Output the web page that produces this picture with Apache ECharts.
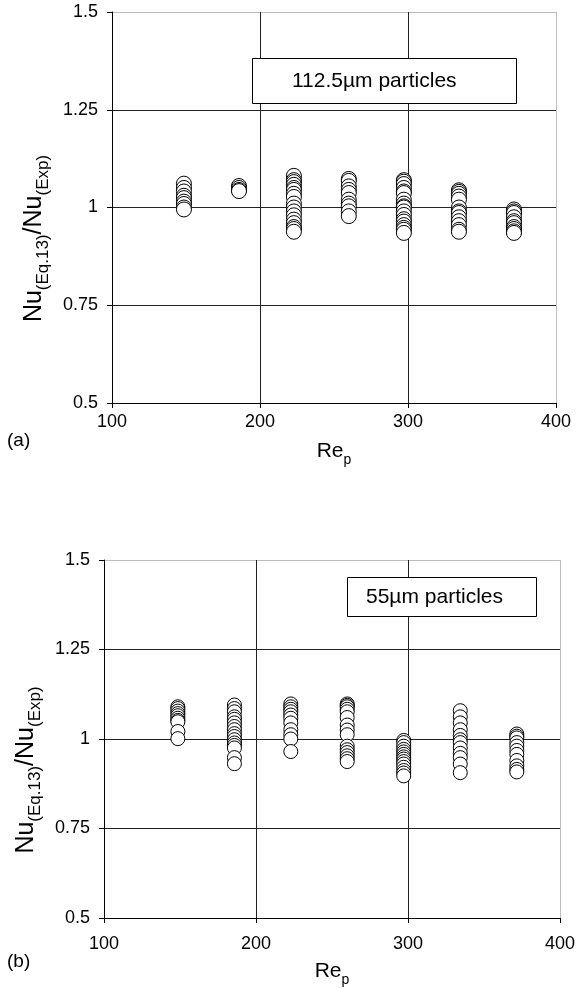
<!DOCTYPE html>
<html>
<head>
<meta charset="utf-8">
<script src="https://cdn.jsdelivr.net/npm/echarts@6/dist/echarts.min.js"></script>
<style>
  html, body { margin: 0; padding: 0; background: #fff; }
  #chart { width: 578px; height: 988px; }
</style>
</head>
<body>
<div id="chart"></div>
<script>
// Re_p of the seven measurement columns (same in both panels)
const rep = [148.6, 185.8, 222.9, 260, 297.2, 334.4, 371.6];
const xTicks = [100, 200, 300, 400];
const yTicks = [0.5, 0.75, 1, 1.25, 1.5];

// (a) 112.5um particles, Nu(Eq.13)/Nu(Exp) per column
const nuA1 = [1.061, 1.05, 1.041, 1.03, 1.024, 1.015, 1.009, 1.0, 0.995];
const nuA2 = [1.055, 1.05, 1.045, 1.042];
const nuA3 = [1.081, 1.07, 1.065, 1.058, 1.05, 1.045, 1.035, 1.027, 1.01, 1.0, 0.99, 0.98, 0.969, 0.96, 0.95, 0.945, 0.938];
const nuA4 = [1.073, 1.068, 1.054, 1.045, 1.037, 1.02, 1.01, 1.003, 0.99, 0.978];
const nuA5 = [1.07, 1.066, 1.06, 1.05, 1.041, 1.037, 1.02, 1.01, 1.003, 1.0, 0.99, 0.981, 0.97, 0.964, 0.955, 0.948, 0.943, 0.935];
const nuA6 = [1.044, 1.04, 1.035, 1.028, 1.02, 1.0, 0.99, 0.986, 0.975, 0.965, 0.955, 0.943, 0.938];
const nuA7 = [0.995, 0.99, 0.986, 0.975, 0.965, 0.96, 0.95, 0.945, 0.939, 0.935];

// (b) 55um particles
const nuB1 = [1.09, 1.085, 1.078, 1.071, 1.065, 1.058, 1.052, 1.048, 1.021, 1.001];
const nuB2 = [1.095, 1.085, 1.076, 1.062, 1.055, 1.045, 1.035, 1.026, 1.015, 1.007, 0.998, 0.989, 0.982, 0.975, 0.948, 0.931];
const nuB3 = [1.098, 1.09, 1.083, 1.076, 1.067, 1.058, 1.045, 1.026, 1.012, 1.0, 0.965];
const nuB4 = [1.098, 1.094, 1.09, 1.083, 1.076, 1.06, 1.039, 1.025, 1.012, 0.98, 0.97, 0.962, 0.953, 0.945, 0.937];
const nuB5 = [0.996, 0.99, 0.98, 0.971, 0.964, 0.957, 0.95, 0.944, 0.937, 0.93, 0.921, 0.912, 0.905, 0.897];
const nuB6 = [1.079, 1.062, 1.045, 1.026, 1.01, 0.998, 0.99, 0.975, 0.96, 0.948, 0.93, 0.906];
const nuB7 = [1.014, 1.008, 1.003, 0.99, 0.98, 0.968, 0.957, 0.94, 0.925, 0.915, 0.908];

const colsA = [nuA1, nuA2, nuA3, nuA4, nuA5, nuA6, nuA7];
const colsB = [nuB1, nuB2, nuB3, nuB4, nuB5, nuB6, nuB7];

function toPoints(cols) {
    let pts = [];
    cols.forEach((col, i) => {
        col.forEach(v => pts.push([rep[i], v]));
    });
    return pts;
}

const font = 'Liberation Sans, Arial, sans-serif';

function xAxisOf(idx, labelMargin, nameGap) {
    return {
        gridIndex: idx,
        type: 'value',
        min: xTicks[0],
        max: xTicks[xTicks.length - 1],
        interval: 100,
        name: '{n|Re}{s|p}',
        nameLocation: 'middle',
        nameGap: nameGap,
        nameTextStyle: {
            color: '#000',
            fontFamily: font,
            rich: {
                n: {fontSize: 21, fontFamily: font, color: '#000', verticalAlign: 'bottom', lineHeight: 24},
                s: {fontSize: 14, fontFamily: font, color: '#000', verticalAlign: 'bottom', lineHeight: 24, padding: [0, 0, -5, 0]}
            }
        },
        axisLine: {lineStyle: {color: '#000', width: 1}},
        axisTick: {show: true, inside: false, length: 5, lineStyle: {color: '#000'}},
        axisLabel: {color: '#000', fontSize: 18, fontFamily: font, margin: labelMargin},
        splitLine: {show: true, lineStyle: {color: ['#000', '#222', '#222', '#bdbdbd'], width: 1}}
    };
}

function yAxisOf(idx, nameGap) {
    return {
        gridIndex: idx,
        type: 'value',
        min: yTicks[0],
        max: yTicks[yTicks.length - 1],
        interval: 0.25,
        name: '{n|Nu}{s|(Eq.13)}{n|/Nu}{s|(Exp)}',
        nameLocation: 'middle',
        nameRotate: 90,
        nameGap: nameGap,
        nameTextStyle: {
            color: '#000',
            fontFamily: font,
            padding: [0, 62, 0, 0],
            rich: {
                n: {fontSize: 25, fontFamily: font, color: '#000', verticalAlign: 'bottom', lineHeight: 28},
                s: {fontSize: 17, fontFamily: font, color: '#000', verticalAlign: 'bottom', lineHeight: 28, padding: [0, 0, -5, 0]}
            }
        },
        axisLine: {show: true, lineStyle: {color: '#000', width: 1}},
        axisTick: {show: true, inside: false, length: 5, lineStyle: {color: '#000'}},
        axisLabel: {color: '#000', fontSize: 18, fontFamily: font, margin: 14},
        splitLine: {show: true, lineStyle: {color: ['#000', '#222', '#222', '#222', '#bdbdbd'], width: 1}}
    };
}

function scatterOf(idx, cols, size) {
    return {
        type: 'scatter',
        xAxisIndex: idx,
        yAxisIndex: idx,
        symbol: 'circle',
        symbolSize: size,
        itemStyle: {color: '#fff', borderColor: '#000', borderWidth: 1, opacity: 1},
        emphasis: {disabled: true},
        data: toPoints(cols)
    };
}

let chartObj = echarts.init(document.getElementById('chart'));

let options = {
    backgroundColor: '#fff',
    animation: false,
    grid: [
        {left: 112, top: 12, width: 444, height: 391},
        {left: 104, top: 560, width: 456, height: 367}
    ],
    xAxis: [xAxisOf(0, 10, 35), xAxisOf(1, 17, 40)],
    yAxis: [yAxisOf(0, 58), yAxisOf(1, 58)],
    series: [scatterOf(0, colsA, 15), scatterOf(1, colsB, 14)],
    graphic: [
        {type: 'rect', left: 252, top: 58, shape: {width: 264, height: 45},
            style: {fill: '#fff', stroke: '#000', lineWidth: 1}, z: 10},
        {type: 'text', x: 292, y: 81, z: 11,
            style: {text: '112.5µm particles', font: '21px Liberation Sans, Arial, sans-serif', fill: '#000',
                textAlign: 'left', textVerticalAlign: 'middle'}},
        {type: 'rect', left: 347, top: 577, shape: {width: 189, height: 39},
            style: {fill: '#fff', stroke: '#000', lineWidth: 1}, z: 10},
        {type: 'text', x: 366, y: 597, z: 11,
            style: {text: '55µm particles', font: '21px Liberation Sans, Arial, sans-serif', fill: '#000',
                textAlign: 'left', textVerticalAlign: 'middle'}},
        {type: 'text', x: 7, y: 441, z: 11,
            style: {text: '(a)', font: '19px Liberation Sans, Arial, sans-serif', fill: '#000',
                textAlign: 'left', textVerticalAlign: 'middle'}},
        {type: 'text', x: 7, y: 962, z: 11,
            style: {text: '(b)', font: '19px Liberation Sans, Arial, sans-serif', fill: '#000',
                textAlign: 'left', textVerticalAlign: 'middle'}}
    ]
};

chartObj.setOption(options);
</script>
</body>
</html>
